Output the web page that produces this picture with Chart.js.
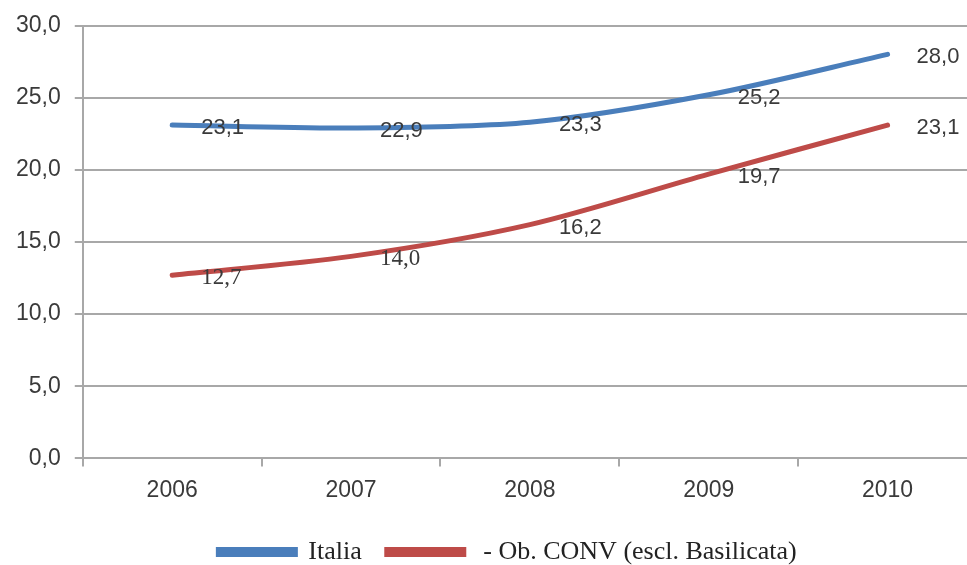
<!DOCTYPE html>
<html>
<head>
<meta charset="utf-8">
<script src="https://cdn.jsdelivr.net/npm/chart.js@4.4.0/dist/chart.umd.min.js"></script>
<style>
  html, body { margin: 0; padding: 0; background: #fff; overflow: hidden; }
  #wrap { position: absolute; left: 0; top: 0; width: 1100px; height: 575px; }
</style>
</head>
<body>
<div id="wrap"><canvas id="chart"></canvas></div>
<script>
// dati
const years = ['2006', '2007', '2008', '2009', '2010'];
const italia = [23.1, 22.9, 23.3, 25.2, 28.0];
const obConv = [12.7, 14.0, 16.2, 19.7, 23.1];
const seriesNames = ['Italia', ' - Ob. CONV (escl. Basilicata)'];

const TEXT = '#3a3a3a';
const GRID = '#a8a8a8';

function virgola(v) {
    return Number(v).toFixed(1).replace('.', ',');
}

// etichette dei valori a destra del punto
const valueLabels = {
    id: 'valueLabels',
    afterDatasetsDraw(chart) {
        const ctx = chart.ctx;
        chart.data.datasets.forEach((ds, i) => {
            const meta = chart.getDatasetMeta(i);
            meta.data.forEach((pt, j) => {
                ctx.save();
                ctx.font = (ds.labelFonts && ds.labelFonts[j]) || '22px "Liberation Sans"';
                ctx.fillStyle = TEXT;
                ctx.textBaseline = 'middle';
                ctx.textAlign = 'left';
                ctx.fillText(virgola(ds.data[j]), pt.x + 29, pt.y + 3);
                ctx.restore();
            });
        });
    }
};

// sposta la legenda un po' a destra, come nell'originale
const legendShift = {
    id: 'legendShift',
    afterLayout(chart) {
        if (!chart.legend) return;
        chart.legend.left += 18;
        chart.legend.right += 18;
    }
};

const serif = '23px "Liberation Serif"';

new Chart(document.getElementById('chart'), {
    type: 'line',
    data: {
        labels: years,
        datasets: [{
            label: seriesNames[0],
            data: italia,
            borderColor: '#4a7ebb',
            backgroundColor: '#4a7ebb',
            borderWidth: 5,
            tension: 0.3,
            pointRadius: 0,
            borderCapStyle: 'round'
        }, {
            label: seriesNames[1],
            data: obConv,
            borderColor: '#be4b48',
            backgroundColor: '#be4b48',
            borderWidth: 5,
            tension: 0.3,
            pointRadius: 0,
            borderCapStyle: 'round',
            labelFonts: [serif, serif]
        }]
    },
    options: {
        responsive: true,
        maintainAspectRatio: false,
        animation: false,
        layout: { padding: { left: 2, top: 10, right: 123, bottom: 0 } },
        scales: {
            x: {
                offset: true,
                grid: { offset: true, drawOnChartArea: false, tickLength: 8, color: GRID, lineWidth: 2 },
                border: { color: GRID, width: 2 },
                ticks: { color: TEXT, font: { family: 'Liberation Sans', size: 23 }, padding: 10 }
            },
            y: {
                min: 0,
                max: 30,
                ticks: {
                    stepSize: 5,
                    color: TEXT,
                    font: { family: 'Liberation Sans', size: 23, lineHeight: 1 },
                    padding: 14,
                    callback: v => virgola(v)
                },
                grid: { color: GRID, tickLength: 8, lineWidth: 2 },
                border: { color: GRID, width: 2 }
            }
        },
        plugins: {
            legend: {
                position: 'bottom',
                labels: {
                    boxWidth: 77,
                    boxHeight: 5,
                    padding: 25,
                    color: '#222',
                    font: { family: 'Liberation Serif', size: 26 }
                }
            },
            tooltip: { enabled: false }
        }
    },
    plugins: [valueLabels, legendShift]
});
</script>
</body>
</html>
